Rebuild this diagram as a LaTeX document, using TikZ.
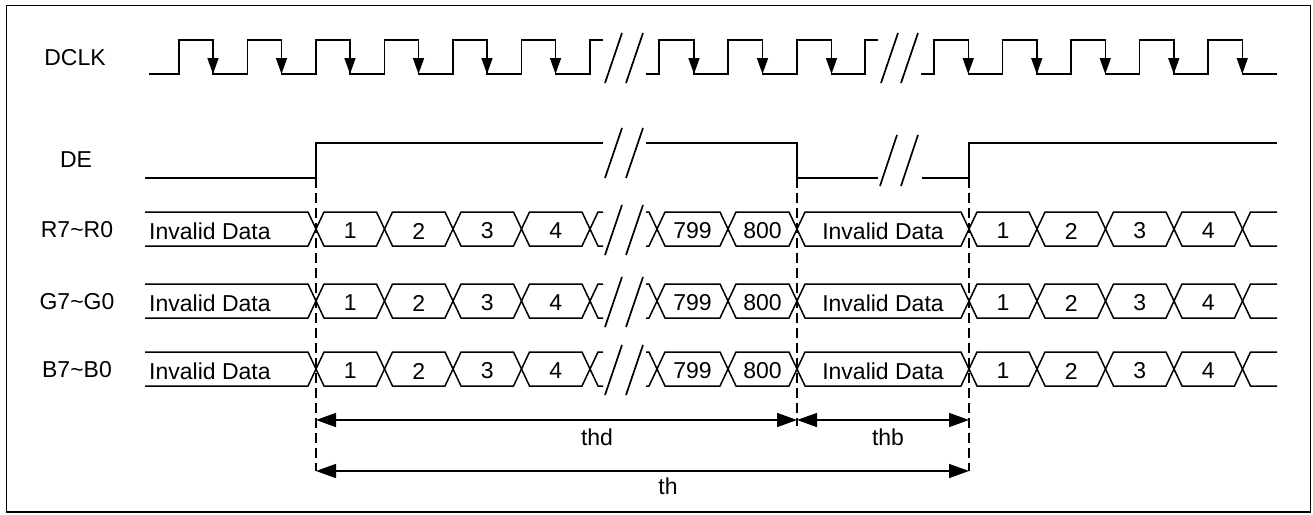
\documentclass[tikz,border=0pt]{standalone}
\usepackage{fontspec}
\setmainfont{Liberation Sans}
\usetikzlibrary{arrows.meta}

\begin{document}
\begin{tikzpicture}[
    x=1pt, y=-1pt,
    wave/.style={line width=1.5pt},
    brk/.style={line width=1.7pt},
    guide/.style={line width=1.3pt, dash pattern=on 10pt off 5pt},
    fall/.style={-{Triangle[length=16pt,width=11pt]}, line width=1.5pt},
    dim/.style={{Triangle[length=20pt,width=14pt]}-{Triangle[length=20pt,width=14pt]}, line width=1.5pt},
    lbl/.style={inner sep=0pt, font=\fontsize{23}{27}\selectfont}
]

\useasboundingbox (0,0) rectangle (1313,514);
\draw[line width=1.3pt] (6.5,5.5) rectangle (1310.5,512);

% DCLK
\node[lbl] (dclk) at (75,58) {DCLK};
\draw[wave] (149,74) foreach \k in {0,...,5} {
    -- ({179+68.5*\k},74) -- ({179+68.5*\k},40) -- ({213+68.5*\k},40) -- ({213+68.5*\k},74)
  } -- (590,74) -- (590,40) -- (603,40);
\draw[wave] (646,74) -- (659,74) -- (659,40) -- (694,40) -- (694,74) -- (728,74) -- (728,40)
  -- (762.5,40) -- (762.5,74) -- (797,74) -- (797,40) -- (831.5,40) -- (831.5,74) -- (865,74)
  -- (865,40) -- (878,40);
\draw[wave] (921,74) foreach \r in {934,1002.5,1071,1139.5,1208} {
    -- (\r,74) -- (\r,40) -- ({\r+34.25},40) -- ({\r+34.25},74)
  } -- (1277,74);
\foreach \x in {213,281.5,350,418.5,487,555.5,694,762.5,831.5,968.25,1036.75,1105.25,1173.75,1242.25}
  \draw[fall] (\x,48) -- (\x,74);
\draw[brk] (605,83) -- (622,33);
\draw[brk] (626,83) -- (643,33);
\draw[brk] (881,83) -- (898,33);
\draw[brk] (901,83) -- (918,33);

% DE
\node[lbl] (de) at (76,160) {DE};
\draw[wave] (145,178) -- (316,178) -- (316,143) -- (603,143);
\draw[wave] (646,143) -- (797,143) -- (797,178) -- (878,178);
\draw[wave] (922,178) -- (969,178) -- (969,143) -- (1277,143);
\draw[brk] (605,178) -- (622,128);
\draw[brk] (626,178) -- (643,128);
\draw[brk] (880,186) -- (897,135);
\draw[brk] (901,186) -- (918,135);

% data buses
\foreach \sig/\top/\txt in {r/212/R7\textasciitilde R0, g/284/G7\textasciitilde G0, b/352/B7\textasciitilde B0} {
  \begin{scope}[shift={(0,\top)}]
    \node[lbl] (\sig lab) at (77,18) {\txt};
    \draw[wave] (145,0) -- (308,0) -- (316,17) -- (308,34) -- (145,34);
    \node[lbl, anchor=west] (\sig inv) at (149,19) {Invalid Data};
    \foreach \a/\b/\t [count=\i] in {316/384.5/1, 384.5/453/2, 453/521.5/3, 521.5/590/4,
        657/728/799, 728/797/800, 797/969/Invalid Data,
        969/1037/1, 1037/1105.5/2, 1105.5/1174/3, 1174/1242.5/4} {
      \draw[wave] (\a,17) -- (\a+8,0) -- (\b-8,0) -- (\b,17) -- (\b-8,34) -- (\a+8,34) -- cycle;
      \node[lbl] (\sig cell\i) at ({(\a+\b)/2},19) {\t};
    }
    \draw[wave] (590,17) -- (598,0) -- (603,0);
    \draw[wave] (590,17) -- (598,34) -- (603,34);
    \draw[wave] (646,0) -- (649,0) -- (657,17) -- (649,34) -- (646,34);
    \draw[wave] (1242.5,17) -- (1250.5,0) -- (1277,0);
    \draw[wave] (1242.5,17) -- (1250.5,34) -- (1277,34);
    \draw[brk] (605,43) -- (622,-7);
    \draw[brk] (626,43) -- (643,-7);
  \end{scope}
}

% timing
\coordinate (hs) at (316,178);
\coordinate (hm) at (797,178);
\coordinate (he) at (969,178);
\coordinate (thdL) at (316,420);
\coordinate (thdR) at (797,420);
\coordinate (thbR) at (969,420);
\coordinate (thL) at (316,471);
\coordinate (thR) at (969,471);
\coordinate (hmend) at (797,426);

\draw[guide] (hs) -- (thL);
\draw[guide] (hm) -- (hmend);
\draw[guide] (he) -- (thR);

\draw[dim] (thdL) -- (thdR);
\draw[dim] (thdR) -- (thbR);
\draw[dim] (thL) -- (thR);

\node[lbl] (thd) at (597,437) {thd};
\node[lbl] (thb) at (888,437) {thb};
\node[lbl] (th) at (668,486) {th};
\end{tikzpicture}
\end{document}
